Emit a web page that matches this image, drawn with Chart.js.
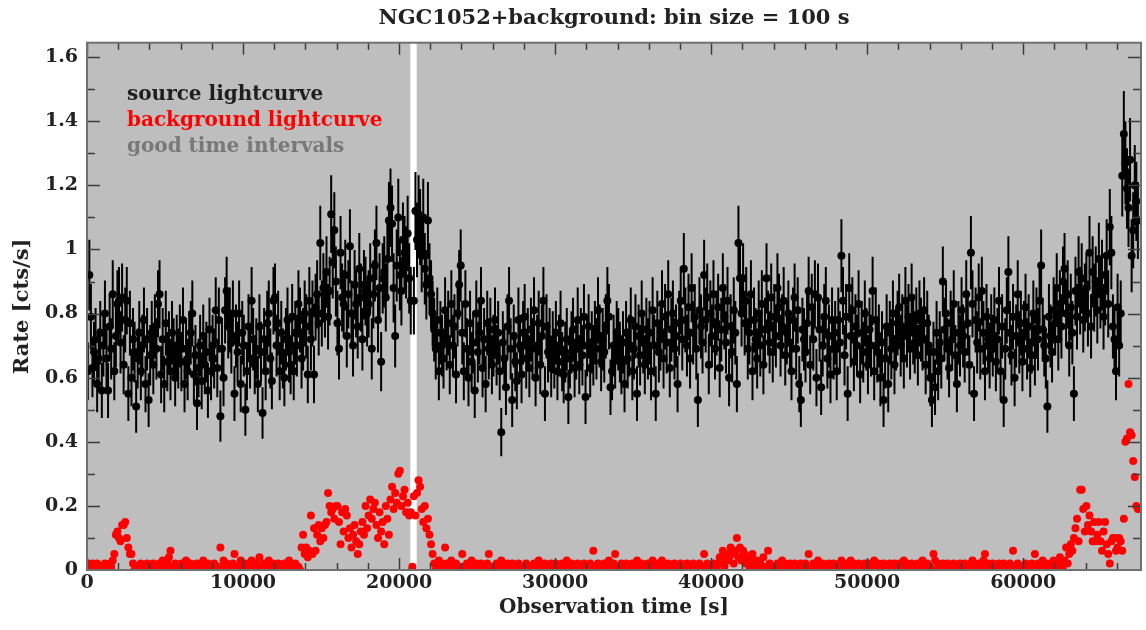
<!DOCTYPE html>
<html>
<head>
<meta charset="utf-8">
<script src="https://cdn.jsdelivr.net/npm/chart.js@4.4.1/dist/chart.umd.min.js"></script>
<style>
  html, body { margin: 0; padding: 0; background: #fff; }
  #wrap { width: 1146px; height: 630px; }
</style>
</head>
<body>
<div id="wrap"><canvas id="lc"></canvas></div>
<script>
// bin centres start at 50 s, one bin every 100 s
var binSize = 100;
var firstBin = 50;

// source lightcurve [cts/s], 20 bins (2000 s) per line
var srcRate = [
  0.62,0.92,0.79,0.63,0.68,0.72,0.58,0.66,0.74,0.56,0.70,0.80,0.66,0.56,0.76,0.69,0.86,0.62,0.73,0.83, // 0
  0.84,0.71,0.85,0.64,0.78,0.84,0.55,0.77,0.60,0.72,0.68,0.51,0.66,0.74,0.62,0.70,0.78,0.58,0.72,0.53, // 2000
  0.67,0.74,0.64,0.76,0.69,0.83,0.86,0.61,0.72,0.58,0.77,0.65,0.71,0.62,0.74,0.69,0.60,0.70,0.66,0.73, // 4000
  0.65,0.78,0.58,0.69,0.62,0.71,0.74,0.80,0.61,0.67,0.52,0.63,0.70,0.59,0.73,0.64,0.68,0.56,0.75,0.62, // 6000
  0.70,0.66,0.81,0.63,0.78,0.48,0.69,0.60,0.81,0.87,0.76,0.78,0.71,0.80,0.55,0.73,0.68,0.80,0.58,0.74, // 8000
  0.70,0.50,0.62,0.76,0.66,0.84,0.72,0.64,0.69,0.58,0.76,0.68,0.49,0.72,0.62,0.77,0.80,0.66,0.59,0.84, // 10000
  0.85,0.70,0.77,0.62,0.74,0.66,0.60,0.72,0.78,0.68,0.64,0.79,0.62,0.74,0.70,0.83,0.78,0.66,0.72,0.80, // 12000
  0.76,0.61,0.84,0.72,0.80,0.61,0.82,0.86,0.77,1.02,0.80,0.88,0.83,0.93,0.79,0.87,1.11,0.96,1.06,0.90, // 14000
  0.77,0.69,0.99,0.85,0.83,0.92,0.73,0.86,1.01,0.80,0.70,0.89,0.83,0.76,0.94,0.85,0.72,0.89,0.87,0.80, // 16000
  0.83,0.91,0.69,0.86,0.95,1.02,0.78,0.88,0.65,0.91,0.93,0.85,0.97,1.09,1.13,1.08,0.88,0.73,0.95,1.10, // 18000
  0.92,0.87,1.03,0.99,0.96,1.05,0.91,0.84,0.00,0.84,1.12,1.03,1.11,1.07,0.98,1.10,0.94,0.89,1.09,0.91, // 20000
  0.86,0.80,0.75,0.69,0.78,0.62,0.74,0.70,0.66,0.81,0.72,0.77,0.64,0.83,0.70,0.76,0.61,0.80,0.89,0.95, // 22000
  0.74,0.62,0.83,0.69,0.60,0.77,0.65,0.71,0.56,0.80,0.68,0.74,0.84,0.63,0.72,0.58,0.77,0.69,0.75,0.64, // 24000
  0.70,0.78,0.67,0.74,0.62,0.43,0.71,0.66,0.57,0.76,0.84,0.69,0.53,0.73,0.65,0.59,0.78,0.70,0.61,0.74, // 26000
  0.79,0.66,0.72,0.63,0.75,0.69,0.81,0.60,0.70,0.77,0.64,0.73,0.84,0.55,0.76,0.68,0.72,0.63,0.71,0.66, // 28000
  0.74,0.62,0.70,0.77,0.65,0.61,0.68,0.72,0.54,0.66,0.71,0.75,0.63,0.69,0.78,0.64,0.72,0.67,0.79,0.54, // 30000
  0.70,0.76,0.63,0.71,0.67,0.74,0.69,0.81,0.73,0.65,0.72,0.68,0.76,0.84,0.79,0.57,0.62,0.70,0.66,0.74, // 32000
  0.72,0.68,0.64,0.71,0.58,0.74,0.66,0.70,0.78,0.62,0.69,0.76,0.55,0.73,0.67,0.80,0.71,0.64,0.75,0.69, // 34000
  0.74,0.62,0.81,0.70,0.55,0.77,0.68,0.72,0.83,0.66,0.79,0.71,0.86,0.63,0.75,0.80,0.69,0.73,0.58,0.77, // 36000
  0.84,0.72,0.94,0.78,0.70,0.82,0.66,0.88,0.74,0.79,0.69,0.53,0.81,0.76,0.71,0.92,0.78,0.85,0.64,0.80, // 38000
  0.73,0.86,0.69,0.77,0.82,0.63,0.75,0.88,0.79,0.71,0.84,0.60,0.76,0.68,0.81,0.74,0.58,1.02,0.91,0.80, // 40000
  0.91,0.77,0.84,0.69,0.74,0.86,0.62,0.78,0.72,0.66,0.80,0.70,0.83,0.64,0.75,0.91,0.77,0.71,0.85,0.68, // 42000
  0.79,0.73,0.88,0.82,0.70,0.76,0.84,0.67,0.74,0.80,0.71,0.62,0.78,0.85,0.69,0.81,0.58,0.53,0.75,0.72, // 44000
  0.68,0.77,0.87,0.64,0.82,0.72,0.86,0.60,0.85,0.75,0.57,0.70,0.79,0.84,0.66,0.73,0.61,0.78,0.69,0.74, // 46000
  0.62,0.78,0.71,0.98,0.84,0.67,0.79,0.55,0.88,0.73,0.81,0.65,0.76,0.70,0.83,0.61,0.74,0.68,0.80,0.72, // 48000
  0.64,0.75,0.70,0.87,0.62,0.78,0.68,0.73,0.60,0.71,0.53,0.66,0.76,0.58,0.74,0.69,0.80,0.64,0.72,0.77, // 50000
  0.82,0.70,0.76,0.66,0.84,0.73,0.79,0.69,0.85,0.74,0.71,0.78,0.67,0.80,0.75,0.72,0.81,0.64,0.77,0.70, // 52000
  0.60,0.53,0.68,0.57,0.74,0.62,0.71,0.66,0.90,0.75,0.80,0.69,0.63,0.77,0.72,0.83,0.67,0.58,0.74,0.70, // 54000
  0.81,0.73,0.68,0.86,0.77,0.64,0.99,0.83,0.55,0.78,0.71,0.85,0.69,0.87,0.74,0.62,0.79,0.72,0.66,0.76, // 56000
  0.70,0.78,0.65,0.72,0.84,0.62,0.76,0.53,0.69,0.81,0.93,0.74,0.67,0.79,0.60,0.73,0.86,0.71,0.77,0.65, // 58000
  0.74,0.82,0.69,0.76,0.63,0.71,0.80,0.67,0.78,0.72,0.84,0.95,0.75,0.70,0.66,0.51,0.79,0.73,0.68,0.81, // 60000
  0.77,0.88,0.72,0.83,0.76,0.90,0.94,0.80,0.86,0.70,0.82,0.74,0.55,0.87,0.79,0.93,0.84,0.91,0.78,0.85, // 62000
  0.88,0.80,0.99,0.76,0.93,0.85,0.90,0.81,0.97,0.86,0.92,0.79,0.87,0.98,0.83,1.07,0.99,0.76,0.72,0.62, // 64000
  0.82,0.70,0.80,1.23,1.36,1.27,1.19,1.13,1.28,0.98,1.06,1.20,1.15,1.09                                // 66000
];

// background lightcurve [cts/s], same bins
var bkgRate = [
  0.02,0.01,0.01,0.02,0.00,0.01,0.02,0.00,0.01,0.01,0.00,0.02,0.01,0.00,0.02,0.01,0.03,0.05,0.11,0.12,
  0.10,0.09,0.14,0.14,0.15,0.10,0.07,0.05,0.05,0.02,0.00,0.01,0.00,0.01,0.02,0.00,0.01,0.00,0.02,0.01,
  0.00,0.01,0.02,0.00,0.01,0.00,0.02,0.01,0.03,0.00,0.01,0.02,0.04,0.06,0.01,0.00,0.02,0.01,0.00,0.01,
  0.02,0.00,0.01,0.03,0.00,0.01,0.02,0.00,0.01,0.00,0.02,0.01,0.00,0.01,0.03,0.00,0.01,0.02,0.00,0.01,
  0.00,0.02,0.01,0.00,0.01,0.07,0.00,0.03,0.01,0.02,0.00,0.01,0.00,0.02,0.05,0.01,0.00,0.01,0.03,0.00,
  0.01,0.00,0.02,0.00,0.01,0.03,0.00,0.01,0.02,0.00,0.04,0.01,0.00,0.02,0.01,0.00,0.03,0.01,0.00,0.02,
  0.00,0.01,0.02,0.00,0.01,0.00,0.02,0.01,0.00,0.03,0.01,0.00,0.01,0.02,0.00,0.01,0.00,0.07,0.11,0.05,
  0.07,0.04,0.06,0.17,0.05,0.13,0.06,0.11,0.14,0.09,0.13,0.10,0.14,0.15,0.24,0.20,0.18,0.19,0.16,0.20,
  0.20,0.15,0.08,0.18,0.12,0.19,0.17,0.10,0.13,0.07,0.11,0.14,0.09,0.05,0.08,0.12,0.15,0.11,0.20,0.13,
  0.17,0.22,0.16,0.19,0.21,0.14,0.10,0.18,0.12,0.15,0.08,0.20,0.16,0.11,0.22,0.26,0.19,0.24,0.21,0.30,
  0.31,0.20,0.23,0.25,0.18,0.21,0.17,0.18,0.01,0.23,0.17,0.24,0.28,0.26,0.19,0.15,0.20,0.13,0.16,0.11,
  0.08,0.05,0.02,0.00,0.01,0.03,0.00,0.02,0.01,0.07,0.02,0.00,0.01,0.03,0.00,0.01,0.02,0.00,0.01,0.00,
  0.05,0.01,0.00,0.02,0.01,0.00,0.03,0.01,0.00,0.02,0.00,0.01,0.02,0.00,0.01,0.00,0.02,0.05,0.01,0.00,
  0.01,0.00,0.02,0.00,0.01,0.03,0.00,0.01,0.00,0.02,0.01,0.00,0.02,0.00,0.01,0.00,0.02,0.01,0.00,0.01,
  0.00,0.02,0.01,0.00,0.01,0.00,0.02,0.00,0.01,0.03,0.00,0.01,0.00,0.02,0.01,0.00,0.01,0.02,0.00,0.01,
  0.02,0.00,0.01,0.00,0.02,0.01,0.00,0.03,0.00,0.01,0.02,0.00,0.01,0.00,0.02,0.01,0.00,0.01,0.02,0.00,
  0.01,0.00,0.02,0.01,0.06,0.00,0.01,0.02,0.00,0.01,0.00,0.02,0.01,0.00,0.03,0.01,0.00,0.02,0.05,0.00,
  0.01,0.00,0.02,0.00,0.01,0.02,0.00,0.01,0.00,0.02,0.01,0.00,0.03,0.01,0.00,0.02,0.00,0.01,0.00,0.02,
  0.00,0.01,0.03,0.00,0.02,0.01,0.00,0.02,0.03,0.00,0.01,0.00,0.02,0.01,0.00,0.01,0.02,0.00,0.01,0.00,
  0.02,0.00,0.01,0.00,0.02,0.01,0.00,0.01,0.02,0.00,0.01,0.00,0.02,0.00,0.01,0.05,0.00,0.02,0.01,0.00,
  0.01,0.02,0.00,0.01,0.02,0.04,0.03,0.06,0.01,0.05,0.03,0.04,0.07,0.05,0.02,0.06,0.10,0.04,0.07,0.03,
  0.06,0.05,0.02,0.04,0.01,0.03,0.05,0.02,0.00,0.03,0.01,0.02,0.00,0.04,0.01,0.00,0.06,0.02,0.00,0.01,
  0.00,0.01,0.02,0.00,0.01,0.03,0.00,0.02,0.01,0.00,0.02,0.00,0.01,0.02,0.00,0.01,0.00,0.02,0.00,0.01,
  0.02,0.00,0.05,0.01,0.00,0.02,0.01,0.00,0.03,0.00,0.01,0.02,0.00,0.01,0.00,0.02,0.01,0.00,0.02,0.00,
  0.01,0.00,0.02,0.03,0.00,0.01,0.02,0.00,0.01,0.03,0.00,0.02,0.00,0.01,0.02,0.00,0.01,0.00,0.02,0.01,
  0.00,0.02,0.01,0.00,0.03,0.01,0.00,0.02,0.00,0.01,0.02,0.00,0.01,0.00,0.02,0.01,0.00,0.02,0.01,0.00,
  0.02,0.00,0.01,0.03,0.00,0.02,0.01,0.00,0.02,0.00,0.01,0.00,0.02,0.01,0.00,0.03,0.00,0.01,0.02,0.00,
  0.01,0.00,0.05,0.03,0.00,0.02,0.01,0.00,0.02,0.00,0.01,0.02,0.00,0.01,0.00,0.02,0.01,0.00,0.01,0.02,
  0.00,0.01,0.02,0.00,0.01,0.00,0.02,0.03,0.00,0.01,0.00,0.02,0.01,0.00,0.03,0.05,0.01,0.02,0.00,0.01,
  0.02,0.00,0.01,0.00,0.02,0.01,0.00,0.02,0.01,0.00,0.01,0.02,0.00,0.06,0.01,0.00,0.02,0.00,0.01,0.00,
  0.01,0.02,0.00,0.01,0.00,0.02,0.01,0.05,0.00,0.02,0.01,0.00,0.03,0.01,0.00,0.02,0.01,0.00,0.02,0.03,
  0.00,0.01,0.02,0.04,0.01,0.00,0.03,0.07,0.02,0.05,0.08,0.06,0.10,0.13,0.16,0.09,0.25,0.25,0.19,0.12,
  0.20,0.14,0.17,0.12,0.09,0.15,0.09,0.11,0.15,0.09,0.06,0.12,0.15,0.08,0.05,0.02,0.09,0.10,0.10,0.06,
  0.07,0.10,0.09,0.06,0.16,0.40,0.41,0.58,0.43,0.42,0.34,0.29,0.20,0.19
];

// good time intervals [s]
var gtiStart = [0, 21130];
var gtiStop = [20720, 67550];

var xMajor = [0, 10000, 20000, 30000, 40000, 50000, 60000];
var yMajor = [0, 0.2, 0.4, 0.6, 0.8, 1.0, 1.2, 1.4, 1.6];

// Poisson error, scaled a bit for the background area
var errScale = 1.15;

var legendText = ["source lightcurve", "background lightcurve", "good time intervals"];
var legendColor = ["#1e1e1e", "#ff0000", "#787878"];

var serif = "'DejaVu Serif', serif";
var ink = "#222222";

var srcPts = [];
var errPts = [];
var bkgPts = [];
for (var i = 0; i < srcRate.length; i++) {
  var t = firstBin + i * binSize;
  var r = srcRate[i];
  srcPts.push({x: t, y: r});
  var e = errScale * Math.sqrt(r * binSize) / binSize;
  errPts.push({x: t, y: r - e});
  errPts.push({x: t, y: r + e});
  errPts.push({x: t, y: null});
}
for (var i = 0; i < bkgRate.length; i++) {
  bkgPts.push({x: firstBin + i * binSize, y: bkgRate[i]});
}

// grey boxes for the GTIs, white elsewhere
var gtiPlugin = {
  id: "gti",
  beforeDatasetsDraw: function(chart) {
    var ctx = chart.ctx, a = chart.chartArea, xs = chart.scales.x;
    ctx.save();
    ctx.fillStyle = "#ffffff";
    ctx.fillRect(a.left, a.top, a.right - a.left, a.bottom - a.top);
    ctx.fillStyle = "#bebebe";
    for (var k = 0; k < gtiStart.length; k++) {
      var x0 = Math.max(a.left, xs.getPixelForValue(gtiStart[k]));
      var x1 = Math.min(a.right, xs.getPixelForValue(gtiStop[k]));
      ctx.fillRect(x0, a.top, x1 - x0, a.bottom - a.top);
    }
    ctx.restore();
  }
};

// IDL style frame with inward ticks on all four sides, plus the text legend
var framePlugin = {
  id: "frame",
  afterDraw: function(chart) {
    var ctx = chart.ctx, a = chart.chartArea;
    var xs = chart.scales.x, ys = chart.scales.y;
    ctx.save();
    ctx.beginPath();
    ctx.rect(a.left, a.top, a.right - a.left, a.bottom - a.top);
    ctx.clip();
    ctx.strokeStyle = "#3c3c3c";
    ctx.lineWidth = 1.5;
    ctx.beginPath();
    for (var v = 0; v <= xs.max; v += 2000) {
      var px = Math.round(xs.getPixelForValue(v)) + 0.5;
      var len = (v % 10000 === 0) ? 12 : 7;
      ctx.moveTo(px, a.bottom); ctx.lineTo(px, a.bottom - len);
      ctx.moveTo(px, a.top); ctx.lineTo(px, a.top + len);
    }
    for (var k = 0; k <= 16; k++) {
      var val = k / 10;
      var py = Math.round(ys.getPixelForValue(val)) + 0.5;
      var ylen = (k % 2 === 0) ? 13 : 8;
      ctx.moveTo(a.left, py); ctx.lineTo(a.left + ylen, py);
      ctx.moveTo(a.right, py); ctx.lineTo(a.right - ylen, py);
    }
    ctx.stroke();
    ctx.restore();

    ctx.save();
    ctx.strokeStyle = "#707070";
    ctx.lineWidth = 2;
    ctx.strokeRect(a.left, a.top, a.right - a.left, a.bottom - a.top);

    ctx.font = "bold 20px " + serif;
    ctx.textBaseline = "middle";
    ctx.textAlign = "left";
    for (var j = 0; j < legendText.length; j++) {
      ctx.fillStyle = legendColor[j];
      ctx.fillText(legendText[j], a.left + 40, a.top + 52 + j * 26);
    }
    ctx.restore();
  }
};

var chart = new Chart(document.getElementById("lc"), {
  type: "scatter",
  data: {
    datasets: [
      {
        label: "background",
        data: bkgPts,
        backgroundColor: "#ff0000",
        borderColor: "#ff0000",
        pointRadius: 4,
        pointBorderWidth: 0,
        order: 0
      },
      {
        label: "source",
        data: srcPts,
        backgroundColor: "#000000",
        borderColor: "#000000",
        pointRadius: 4,
        pointBorderWidth: 0,
        order: 1
      },
      {
        type: "line",
        label: "errors",
        data: errPts,
        borderColor: "#000000",
        borderWidth: 2,
        pointRadius: 0,
        showLine: true,
        spanGaps: false,
        order: 2
      }
    ]
  },
  plugins: [gtiPlugin, framePlugin],
  options: {
    responsive: true,
    maintainAspectRatio: false,
    animation: false,
    layout: { padding: { left: 0, right: 5, top: 0, bottom: 0 } },
    plugins: {
      legend: { display: false },
      tooltip: { enabled: false },
      title: {
        display: true,
        fullSize: false,
        text: "NGC1052+background: bin size = 100 s",
        color: ink,
        font: { family: serif, size: 21, weight: "bold", lineHeight: 1.2 },
        padding: { top: 6, bottom: 11.5 }
      }
    },
    scales: {
      x: {
        type: "linear",
        min: 0,
        max: 67550,
        grid: { display: false, drawTicks: false },
        border: { display: false },
        afterBuildTicks: function(s) {
          s.ticks = xMajor.map(function(v) { return {value: v}; });
        },
        afterFit: function(s) { s.height = 60; },
        ticks: {
          color: ink,
          font: { family: serif, size: 19, weight: "bold" },
          padding: 2,
          maxRotation: 0,
          autoSkip: false,
          callback: function(v) { return String(v); }
        },
        title: {
          display: true,
          text: "Observation time [s]",
          color: ink,
          font: { family: serif, size: 20, weight: "bold", lineHeight: 1.2 },
          padding: { top: 0, bottom: 10 }
        }
      },
      y: {
        min: 0,
        max: 1.645,
        grid: { display: false, drawTicks: false },
        border: { display: false },
        afterBuildTicks: function(s) {
          s.ticks = yMajor.map(function(v) { return {value: v}; });
        },
        afterFit: function(s) { s.width = 87; },
        ticks: {
          color: ink,
          font: { family: serif, size: 19, weight: "bold" },
          padding: 9,
          callback: function(v) { return String(Math.round(v * 10) / 10); }
        },
        title: {
          display: true,
          text: "Rate [cts/s]",
          color: ink,
          font: { family: serif, size: 21, weight: "bold", lineHeight: 1.2 },
          padding: { top: 10, bottom: 0 }
        }
      }
    }
  }
});
</script>
</body>
</html>
